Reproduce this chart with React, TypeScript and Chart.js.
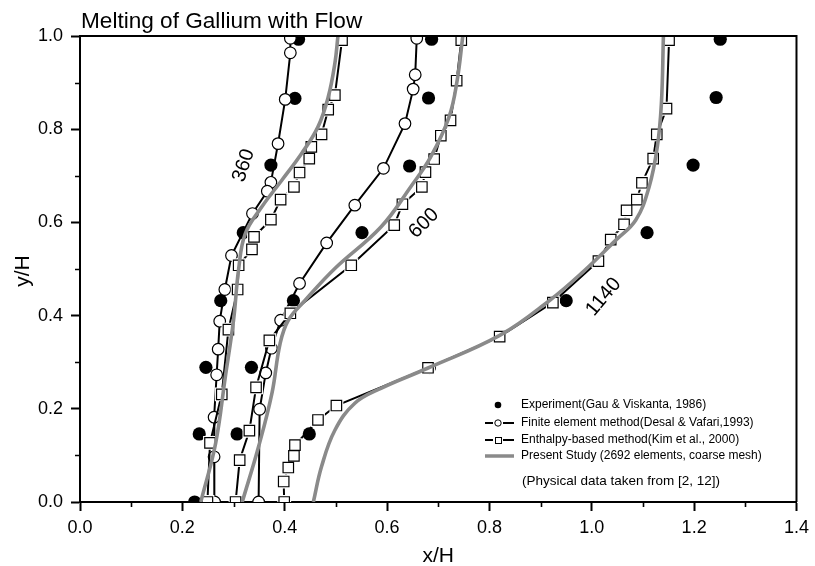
import React, { useEffect, useRef } from 'react';
import { Chart, registerables } from 'chart.js';

Chart.register(...registerables);

const FONT = '"Liberation Sans", Arial, Helvetica, sans-serif';

// ---------- data ----------
const chartTitle = 'Melting of Gallium with Flow';
const xAxisTitle = 'x/H';
const yAxisTitle = 'y/H';
const xTickLabels = ['0.0', '0.2', '0.4', '0.6', '0.8', '1.0', '1.2', '1.4'];
const yTickLabels = ['0.0', '0.2', '0.4', '0.6', '0.8', '1.0'];
const xMinorTicks = [0.1, 0.3, 0.5, 0.7, 0.9, 1.1, 1.3];
const yMinorTicks = [0.1, 0.3, 0.5, 0.7, 0.9];

const legendLabels = [
  'Experiment(Gau & Viskanta, 1986)',
  'Finite element method(Desal & Vafari,1993)',
  'Enthalpy-based method(Kim et al., 2000)',
  'Present Study (2692 elements, coarse mesh)',
];
const noteText = '(Physical data taken from [2, 12])';

const timeLabels = ['360', '600', '1140'];
const timeLabelX = [0.32, 0.672, 1.023];
const timeLabelY = [0.722, 0.598, 0.44];
const timeLabelAngle = [-72, -45, -50];

// Experiment (filled circles)
const exp360X = [0.427, 0.42, 0.373, 0.319, 0.275, 0.246, 0.233, 0.224];
const exp360Y = [0.993, 0.866, 0.723, 0.578, 0.432, 0.289, 0.146, 0.0];
const exp600X = [0.687, 0.681, 0.644, 0.551, 0.417, 0.335, 0.307];
const exp600Y = [0.993, 0.867, 0.721, 0.578, 0.432, 0.289, 0.146];
const exp1140X = [1.251, 1.243, 1.198, 1.108, 0.95, 0.448, 0.4];
const exp1140Y = [0.993, 0.868, 0.723, 0.578, 0.432, 0.146, 0.0];

// Finite element method (open circles + line)
const fe360X = [0.411, 0.411, 0.401, 0.387, 0.373, 0.366, 0.337, 0.296, 0.283, 0.273, 0.27, 0.267, 0.262, 0.262, 0.263];
const fe360Y = [0.995, 0.964, 0.864, 0.769, 0.686, 0.667, 0.619, 0.529, 0.456, 0.388, 0.328, 0.273, 0.182, 0.097, 0.0];
const fe600X = [0.658, 0.655, 0.651, 0.635, 0.593, 0.537, 0.482, 0.429, 0.392, 0.374, 0.363, 0.351, 0.349];
const fe600Y = [0.995, 0.917, 0.886, 0.812, 0.716, 0.637, 0.556, 0.469, 0.39, 0.33, 0.277, 0.199, 0.0];
const fe1140X = [0.683];
const fe1140Y = [0.288];

// Enthalpy-based method (open squares + gapped line)
const en360X = [0.512, 0.498, 0.485, 0.472, 0.452, 0.448, 0.429, 0.418, 0.392, 0.373, 0.34, 0.336, 0.31, 0.308, 0.29, 0.277, 0.254, 0.249];
const en360Y = [0.991, 0.873, 0.842, 0.789, 0.762, 0.737, 0.707, 0.676, 0.649, 0.606, 0.569, 0.542, 0.508, 0.456, 0.37, 0.231, 0.127, 0.0];
const en600X = [0.745, 0.736, 0.724, 0.705, 0.692, 0.675, 0.668, 0.63, 0.614, 0.53, 0.411, 0.37, 0.344, 0.331, 0.312, 0.304];
const en600Y = [0.991, 0.904, 0.819, 0.786, 0.736, 0.708, 0.676, 0.639, 0.594, 0.508, 0.405, 0.347, 0.246, 0.153, 0.09, 0.0];
const en1140X = [1.151, 1.146, 1.127, 1.12, 1.098, 1.088, 1.068, 1.063, 1.037, 1.013, 0.924, 0.82, 0.68, 0.501, 0.465, 0.42, 0.418, 0.407, 0.398, 0.399];
const en1140Y = [0.991, 0.844, 0.789, 0.737, 0.685, 0.649, 0.626, 0.596, 0.563, 0.517, 0.428, 0.355, 0.288, 0.207, 0.176, 0.122, 0.099, 0.074, 0.044, 0.0];

// Present study (grey smooth curves)
const ps360X = [0.236, 0.265, 0.284, 0.3, 0.31, 0.323, 0.355, 0.394, 0.433, 0.465, 0.485, 0.498, 0.504];
const ps360Y = [0.0, 0.126, 0.269, 0.39, 0.5, 0.576, 0.633, 0.69, 0.748, 0.805, 0.869, 0.941, 1.0];
const ps600X = [0.317, 0.349, 0.375, 0.391, 0.407, 0.44, 0.498, 0.588, 0.646, 0.685, 0.721, 0.737, 0.748];
const ps600Y = [0.0, 0.119, 0.233, 0.34, 0.39, 0.433, 0.501, 0.59, 0.676, 0.74, 0.826, 0.905, 1.0];
const ps1140X = [0.456, 0.472, 0.498, 0.537, 0.588, 0.679, 0.821, 0.918, 0.983, 1.047, 1.086, 1.112, 1.128, 1.136, 1.14];
const ps1140Y = [0.0, 0.076, 0.154, 0.212, 0.244, 0.287, 0.358, 0.433, 0.494, 0.562, 0.605, 0.676, 0.762, 0.855, 1.0];

const pts = (xs: number[], ys: number[]) => xs.map((x, i) => ({ x, y: ys[i] }));

export default function App() {
  const ref = useRef<HTMLCanvasElement>(null);

  useEffect(() => {
    document.body.style.margin = '0';
    const canvas = ref.current;
    if (!canvas) return;

    const GREY = '#8a8a8a';

    const expDs = (xs: number[], ys: number[]) => ({
      data: pts(xs, ys),
      showLine: false,
      pointStyle: 'circle',
      pointRadius: 6.6,
      pointBackgroundColor: '#000',
      pointBorderColor: '#000',
      pointBorderWidth: 0,
      clip: 0,
      order: 9,
    });
    const feDs = (xs: number[], ys: number[]) => ({
      data: pts(xs, ys),
      showLine: true,
      borderColor: '#000',
      borderWidth: 2,
      tension: 0,
      pointStyle: 'circle',
      pointRadius: 5.8,
      pointBackgroundColor: '#fff',
      pointBorderColor: '#000',
      pointBorderWidth: 1.2,
      clip: 0,
      order: 7,
    });
    const enLine = (xs: number[], ys: number[]) => ({
      data: pts(xs, ys),
      showLine: true,
      borderColor: '#000',
      borderWidth: 2,
      tension: 0,
      pointRadius: 0,
      clip: 0,
      order: 5,
    });
    const enHalo = (xs: number[], ys: number[]) => ({
      data: pts(xs, ys),
      showLine: false,
      pointStyle: 'rect',
      pointRadius: 9.8,
      pointBackgroundColor: '#fff',
      pointBorderColor: '#fff',
      pointBorderWidth: 0,
      clip: 0,
      order: 4,
    });
    const enMarks = (xs: number[], ys: number[]) => ({
      data: pts(xs, ys),
      showLine: false,
      pointStyle: 'rect',
      pointRadius: 7.4,
      pointBackgroundColor: '#fff',
      pointBorderColor: '#000',
      pointBorderWidth: 1.2,
      clip: 0,
      order: 3,
    });
    const psDs = (xs: number[], ys: number[]) => ({
      data: pts(xs, ys),
      showLine: true,
      borderColor: GREY,
      borderWidth: 3.6,
      tension: 0.4,
      pointRadius: 0,
      clip: 0,
      order: 1,
    });

    const decor = {
      id: 'decor',
      afterDraw(chart: any) {
        const ctx = chart.ctx as CanvasRenderingContext2D;
        const a = chart.chartArea;
        const xs = chart.scales.x;
        const ys = chart.scales.y;
        ctx.save();
        // frame top/right
        ctx.strokeStyle = '#000';
        ctx.lineWidth = 2;
        ctx.beginPath();
        ctx.moveTo(a.left, a.top);
        ctx.lineTo(a.right, a.top);
        ctx.lineTo(a.right, a.bottom);
        ctx.stroke();
        // minor ticks
        ctx.lineWidth = 1.6;
        ctx.beginPath();
        xMinorTicks.forEach((v) => {
          const px = Math.round(xs.getPixelForValue(v)) + 0.5;
          ctx.moveTo(px, a.bottom);
          ctx.lineTo(px, a.bottom + 5);
        });
        yMinorTicks.forEach((v) => {
          const py = Math.round(ys.getPixelForValue(v)) + 0.5;
          ctx.moveTo(a.left, py);
          ctx.lineTo(a.left - 5, py);
        });
        ctx.stroke();

        // title
        ctx.fillStyle = '#000';
        ctx.font = `22.6px ${FONT}`;
        ctx.textAlign = 'left';
        ctx.textBaseline = 'alphabetic';
        ctx.fillText(chartTitle, 81, 27.5);

        // axis titles
        ctx.font = `21px ${FONT}`;
        ctx.textAlign = 'center';
        ctx.textBaseline = 'middle';
        ctx.fillText(xAxisTitle, (a.left + a.right) / 2, 556);
        ctx.save();
        ctx.translate(23, (a.top + a.bottom) / 2 + 2);
        ctx.rotate(-Math.PI / 2);
        ctx.fillText(yAxisTitle, 0, 0);
        ctx.restore();

        // time labels
        ctx.font = `20px ${FONT}`;
        timeLabels.forEach((t, i) => {
          const px = xs.getPixelForValue(timeLabelX[i]);
          const py = ys.getPixelForValue(timeLabelY[i]);
          ctx.save();
          ctx.translate(px, py);
          ctx.rotate((timeLabelAngle[i] * Math.PI) / 180);
          ctx.fillText(t, 0, 0);
          ctx.restore();
        });

        // legend
        const rows = [405, 423, 440, 456];
        const mx = 498;
        const l1 = 485;
        const l2 = 514;
        const tx = 521;
        // row 1: filled dot
        ctx.fillStyle = '#000';
        ctx.beginPath();
        ctx.arc(mx, rows[0], 3.3, 0, Math.PI * 2);
        ctx.fill();
        // row 2: line + open circle
        ctx.strokeStyle = '#000';
        ctx.lineWidth = 2.2;
        ctx.beginPath();
        ctx.moveTo(l1, rows[1]);
        ctx.lineTo(mx - 5, rows[1]);
        ctx.moveTo(mx + 5, rows[1]);
        ctx.lineTo(l2, rows[1]);
        ctx.stroke();
        ctx.lineWidth = 1;
        ctx.fillStyle = '#fff';
        ctx.beginPath();
        ctx.arc(mx, rows[1], 3.2, 0, Math.PI * 2);
        ctx.fill();
        ctx.stroke();
        // row 3: line + open square
        ctx.lineWidth = 2.2;
        ctx.beginPath();
        ctx.moveTo(l1, rows[2]);
        ctx.lineTo(mx - 5, rows[2]);
        ctx.moveTo(mx + 5, rows[2]);
        ctx.lineTo(l2, rows[2]);
        ctx.stroke();
        ctx.lineWidth = 1;
        ctx.fillRect(mx - 3, rows[2] - 3, 6, 6);
        ctx.strokeRect(mx - 3 + 0.5, rows[2] - 3 + 0.5, 6, 6);
        // row 4: grey line
        ctx.strokeStyle = GREY;
        ctx.lineWidth = 3.5;
        ctx.beginPath();
        ctx.moveTo(l1, rows[3]);
        ctx.lineTo(l2, rows[3]);
        ctx.stroke();
        // texts
        ctx.fillStyle = '#000';
        ctx.font = `12px ${FONT}`;
        ctx.textAlign = 'left';
        ctx.textBaseline = 'middle';
        legendLabels.forEach((t, i) => ctx.fillText(t, tx, rows[i]));
        ctx.font = `13.5px ${FONT}`;
        ctx.fillText(noteText, 522, 481);
        ctx.restore();
      },
    };

    const chart = new Chart(canvas, {
      type: 'scatter',
      data: {
        datasets: [
          psDs(ps360X, ps360Y),
          psDs(ps600X, ps600Y),
          psDs(ps1140X, ps1140Y),
          enMarks(en360X, en360Y),
          enMarks(en600X, en600Y),
          enMarks(en1140X, en1140Y),
          enHalo(en360X, en360Y),
          enHalo(en600X, en600Y),
          enHalo(en1140X, en1140Y),
          enLine(en360X, en360Y),
          enLine(en600X, en600Y),
          enLine(en1140X, en1140Y),
          feDs(fe360X, fe360Y),
          feDs(fe600X, fe600Y),
          feDs(fe1140X, fe1140Y),
          expDs(exp360X, exp360Y),
          expDs(exp600X, exp600Y),
          expDs(exp1140X, exp1140Y),
        ] as any,
      },
      options: {
        responsive: false,
        animation: false,
        events: [],
        devicePixelRatio: 1,
        layout: { padding: { top: 36, right: 13, left: 0, bottom: 0 } },
        plugins: {
          legend: { display: false },
          title: { display: false },
          tooltip: { enabled: false },
        },
        scales: {
          x: {
            type: 'linear',
            min: 0,
            max: 1.4,
            afterFit: (s: any) => {
              s.height = 64;
            },
            ticks: {
              stepSize: 0.2,
              autoSkip: false,
              maxRotation: 0,
              padding: 6,
              color: '#000',
              font: { family: FONT, size: 18 },
              callback: (v: any, i: number) => xTickLabels[i] ?? Number(v).toFixed(1),
            },
            grid: {
              display: true,
              drawOnChartArea: false,
              drawTicks: true,
              tickLength: 9,
              tickWidth: 2,
              tickColor: '#000',
            },
            border: { display: true, color: '#000', width: 2 },
          },
          y: {
            type: 'linear',
            min: 0,
            max: 1,
            afterFit: (s: any) => {
              s.width = 80;
            },
            ticks: {
              stepSize: 0.2,
              autoSkip: false,
              padding: 8,
              color: '#000',
              font: { family: FONT, size: 18 },
              callback: (v: any, i: number) => yTickLabels[i] ?? Number(v).toFixed(1),
            },
            grid: {
              display: true,
              drawOnChartArea: false,
              drawTicks: true,
              tickLength: 9,
              tickWidth: 2,
              tickColor: '#000',
            },
            border: { display: true, color: '#000', width: 2 },
          },
        },
      } as any,
      plugins: [decor],
    });

    return () => chart.destroy();
  }, []);

  return (
    <canvas
      ref={ref}
      width={815}
      height={566}
      style={{ display: 'block', width: 815, height: 566 }}
    />
  );
}
